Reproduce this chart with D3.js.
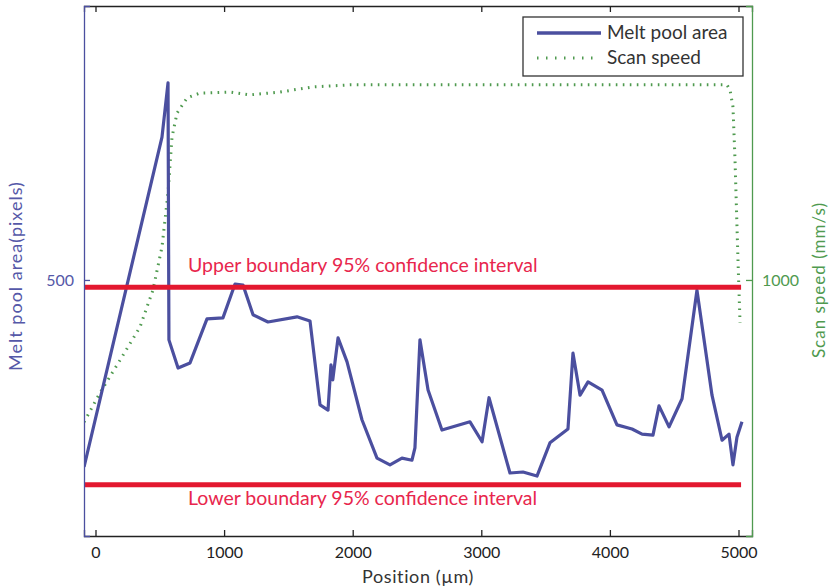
<!DOCTYPE html>
<html><head><meta charset="utf-8">
<script src="https://cdn.jsdelivr.net/npm/d3@7"></script>
<style>body{margin:0;background:#fff}svg{display:block}text{font-family:Lato,"Open Sans",sans-serif}</style>
</head><body>
<svg id="c" width="831" height="587"></svg>
<script>
// Data
const areaX = [-89,517,564,571,642,735,867,991,1085,1147,1225,1341,1567,1668,1746,1808,1831,1845,1886,1956,2072,2189,2290,2383,2461,2484,2523,2586,2694,2912,3006,3060,3223,3324,3433,3534,3674,3713,3768,3830,3939,4055,4172,4250,4335,4382,4460,4561,4677,4794,4872,4926,4957,4988,5027];
const areaY = [135,779,885,383,328,338,424,426,492,490,432,418,428,420,256,246,334,305,387,340,227,152,139,152,148,172,383,285,207,223,184,270,123,125,117,182,209,357,275,301,285,217,209,199,197,254,213,268,480,275,187,199,139,193,223];
const speedX = [-89,35,191,346,447,517,564,595,634,712,813,1046,1202,1435,1691,1979,3145,4911,4934,4957,4973,4996,5012];
const speedY = [445,559,687,816,961,1129,1340,1558,1652,1711,1730,1734,1723,1734,1754,1762,1762,1762,1742,1676,1469,1078,832];
const ciUpper = 486, ciLower = 100;
const ciX = [-89, 5020];
const xTicks = [0,1000,2000,3000,4000,5000];
const areaTicks = [500];
const speedTicks = [1000];
const seriesNames = ["Melt pool area","Scan speed"];

const L=84,R=752,T=6,B=536;
const blue="#4b4f9f", green="#4f9a4f", red="#e3182f", redText="#e8264d";
const svg=d3.select("#c");
const x=d3.scaleLinear().domain([-89.4,5105]).range([L,R]);
const yA=d3.scaleLinear().domain([0,1035]).range([B,T]);
const yS=d3.scaleLinear().domain([0,2070]).range([B,T]);

svg.append("defs").append("clipPath").attr("id","clip").append("rect").attr("x",L).attr("y",T).attr("width",R-L).attr("height",B-T);
const g=svg.append("g").attr("clip-path","url(#clip)");

const speed=speedX.map((d,i)=>[d,speedY[i]]);
const area=areaX.map((d,i)=>[d,areaY[i]]);

g.append("path").datum(speed).attr("fill","none").attr("stroke",green).attr("stroke-width",3).attr("stroke-dasharray","1.6,5.4")
 .attr("d",d3.line().x(d=>x(d[0])).y(d=>yS(d[1])));

g.append("path").datum(area).attr("fill","none").attr("stroke",blue).attr("stroke-width",3.2).attr("stroke-linejoin","round")
 .attr("d",d3.line().x(d=>x(d[0])).y(d=>yA(d[1])));

[ciUpper,ciLower].forEach(v=>{
  g.append("line").attr("x1",x(ciX[0])).attr("x2",x(ciX[1])).attr("y1",yA(v)).attr("y2",yA(v)).attr("stroke",red).attr("stroke-width",5);
});

svg.append("text").attr("x",188).attr("y",yA(ciUpper)-15).attr("fill",redText).attr("font-size",19.5).text("Upper boundary 95% confidence interval");
svg.append("text").attr("x",188).attr("y",yA(ciLower)+20).attr("fill",redText).attr("font-size",19.5).text("Lower boundary 95% confidence interval");

// axes
const xb=svg.append("g").attr("transform",`translate(0,${B})`).call(d3.axisBottom(x).tickValues(xTicks).tickSize(-6).tickPadding(11).tickFormat(d3.format("d")));
const xt=svg.append("g").attr("transform",`translate(0,${T})`).call(d3.axisTop(x).tickValues(xTicks).tickSize(-6).tickFormat(""));
[xb,xt].forEach(a=>{a.select(".domain").attr("stroke","#222").attr("stroke-width",1.3);a.selectAll(".tick line").attr("stroke","#222").attr("stroke-width",1.3);
  a.selectAll("text").attr("fill","#222").attr("font-size",16).attr("font-family","Lato,sans-serif");});
const yl=svg.append("g").attr("transform",`translate(${L},0)`).call(d3.axisLeft(yA).tickValues(areaTicks).tickSize(-6).tickPadding(10).tickFormat(d3.format("d")));
yl.select(".domain").attr("stroke",blue).attr("stroke-width",1.3);
yl.selectAll(".tick line").attr("stroke",blue).attr("stroke-width",1.3);
yl.selectAll("text").attr("fill","#5558a8").attr("font-size",16).attr("font-family","Lato,sans-serif");
const yr=svg.append("g").attr("transform",`translate(${R},0)`).call(d3.axisRight(yS).tickValues(speedTicks).tickSize(-6).tickPadding(10).tickFormat(d3.format("d")));
yr.select(".domain").attr("stroke",green).attr("stroke-width",1.3);
yr.selectAll(".tick line").attr("stroke",green).attr("stroke-width",1.3);
yr.selectAll("text").attr("fill","#4f9a4f").attr("font-size",16).attr("font-family","Lato,sans-serif");

svg.append("text").attr("x",418).attr("y",583).attr("text-anchor","middle").attr("fill","#333").attr("font-size",18).attr("letter-spacing",0.6).text("Position (µm)");
svg.append("text").attr("transform","translate(22,276) rotate(-90)").attr("text-anchor","middle").attr("fill","#5558a8").attr("font-size",18).attr("letter-spacing",1).text("Melt pool area(pixels)");
svg.append("text").attr("transform","translate(825,280) rotate(-90)").attr("text-anchor","middle").attr("fill","#4f9a4f").attr("font-size",17).attr("letter-spacing",1).text("Scan speed (mm/s)");

// legend
const lg=svg.append("g");
lg.append("rect").attr("x",523).attr("y",17).attr("width",220).attr("height",59).attr("fill","#fff").attr("stroke","#333").attr("stroke-width",1.3);
lg.append("line").attr("x1",537).attr("x2",601).attr("y1",33).attr("y2",33).attr("stroke",blue).attr("stroke-width",3.5);
lg.append("line").attr("x1",537).attr("x2",597).attr("y1",58).attr("y2",58).attr("stroke",green).attr("stroke-width",3).attr("stroke-dasharray","1.5,7.5");
lg.append("text").attr("x",607).attr("y",39).attr("fill","#333").attr("font-size",19).text(seriesNames[0]);
lg.append("text").attr("x",607).attr("y",64).attr("fill","#333").attr("font-size",19).text(seriesNames[1]);
</script>
</body></html>
